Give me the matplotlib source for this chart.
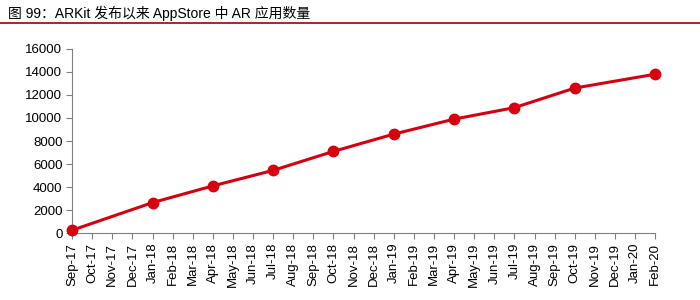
import matplotlib
matplotlib.use("Agg")
import matplotlib.pyplot as plt
from matplotlib.lines import Line2D

plt.rcParams['font.family'] = ['Liberation Sans', 'Noto Sans CJK SC', 'DejaVu Sans']

months = ["Sep-17", "Oct-17", "Nov-17", "Dec-17", "Jan-18", "Feb-18", "Mar-18", "Apr-18",
          "May-18", "Jun-18", "Jul-18", "Aug-18", "Sep-18", "Oct-18", "Nov-18", "Dec-18",
          "Jan-19", "Feb-19", "Mar-19", "Apr-19", "May-19", "Jun-19", "Jul-19", "Aug-19",
          "Sep-19", "Oct-19", "Nov-19", "Dec-19", "Jan-20", "Feb-20"]
point_months = ["Sep-17", "Jan-18", "Apr-18", "Jul-18", "Oct-18", "Jan-19", "Apr-19",
                "Jul-19", "Oct-19", "Feb-20"]
app_counts = [250, 2650, 4100, 5450, 7100, 8600, 9900, 10900, 12600, 13800]
yticks = [0, 2000, 4000, 6000, 8000, 10000, 12000, 14000, 16000]
title = "图 99：ARKit 发布以来 AppStore 中 AR 应用数量"

fig = plt.figure(figsize=(7, 3), dpi=100)
ax = fig.add_axes([0.103, 0.223, 0.833, 0.614])

xs = [months.index(m) for m in point_months]
red = "#D7000F"
ax.plot(xs, app_counts, color=red, lw=2.2, marker="o", markersize=7.5,
        markerfacecolor=red, markeredgecolor=red, clip_on=False, zorder=3)

ax.set_xlim(0, len(months) - 1)
ax.set_ylim(0, 16000)
ax.set_yticks(yticks)
ax.set_yticklabels([str(v) for v in yticks], fontsize=9.5)
ax.set_xticks(range(len(months)))
ax.set_xticklabels(months, rotation=90, fontsize=9.5)

for s in ["top", "right"]:
    ax.spines[s].set_visible(False)
for s in ["left", "bottom"]:
    ax.spines[s].set_color("#808080")
    ax.spines[s].set_linewidth(0.8)
ax.tick_params(axis="both", direction="out", length=4, width=0.8, color="#808080",
               labelcolor="black", pad=3)

fig.text(0.011, 0.955, title, fontsize=10.0, ha="left", va="center", color="black")
fig.add_artist(Line2D([0.0, 1.0], [0.925, 0.925], transform=fig.transFigure,
                      color="#A00000", lw=1.2))

fig.savefig("out.png", dpi=100)
